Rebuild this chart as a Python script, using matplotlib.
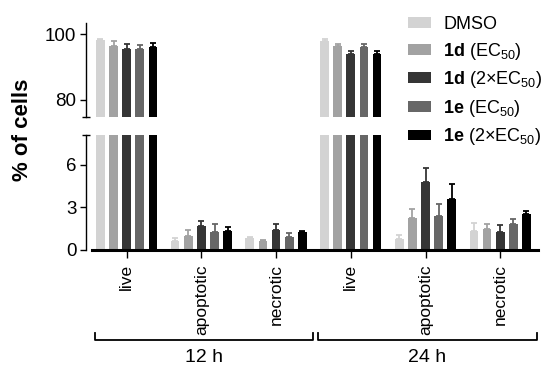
import matplotlib
matplotlib.use("Agg")
import matplotlib.pyplot as plt
from matplotlib.patches import Patch
import numpy as np

plt.rcParams['font.family'] = ['Liberation Sans', 'DejaVu Sans']
plt.rcParams['mathtext.fontset'] = 'custom'
plt.rcParams['mathtext.rm'] = 'Liberation Sans'
plt.rcParams['mathtext.it'] = 'Liberation Sans:italic'
plt.rcParams['mathtext.bf'] = 'Liberation Sans:bold'

# ---- data ----
categories = ['live', 'apoptotic', 'necrotic', 'live', 'apoptotic', 'necrotic']
time_labels = ['12 h', '24 h']
series_labels = ['DMSO',
                 r'$\mathbf{1d}$ (EC$_{50}$)',
                 r'$\mathbf{1d}$ (2×EC$_{50}$)',
                 r'$\mathbf{1e}$ (EC$_{50}$)',
                 r'$\mathbf{1e}$ (2×EC$_{50}$)']
dmso = [98.1, 0.65, 0.88, 98.0, 0.77, 1.36]
dmso_err = [0.3, 0.2, 0.05, 0.6, 0.3, 0.54]
d1_ec50 = [96.5, 1.0, 0.66, 96.3, 2.28, 1.5]
d1_ec50_err = [1.4, 0.38, 0.05, 0.8, 0.58, 0.35]
d1_2x = [95.4, 1.72, 1.38, 94.1, 4.77, 1.29]
d1_2x_err = [1.5, 0.3, 0.45, 0.7, 1.05, 0.47]
e1_ec50 = [95.4, 1.3, 0.92, 96.0, 2.37, 1.83]
e1_ec50_err = [1.2, 0.5, 0.25, 1.1, 0.85, 0.35]
e1_2x = [96.0, 1.35, 1.27, 94.1, 3.59, 2.51]
e1_2x_err = [1.4, 0.3, 0.06, 0.8, 1.06, 0.26]

series = [dmso, d1_ec50, d1_2x, e1_ec50, e1_2x]
errors = [dmso_err, d1_ec50_err, d1_2x_err, e1_ec50_err, e1_2x_err]
colors = ['#d3d3d3', '#a2a2a2', '#353535', '#676767', '#000000']

W, H = 550, 373
fig = plt.figure(figsize=(W / 100, H / 100), dpi=100)

def fx(px):
    return px / W

def fy(py):
    return 1 - py / H

left, right = 86, 538
ax_top = fig.add_axes([fx(left), fy(116.7), fx(right - left), fy(22.7) - fy(116.7)])
ax_bot = fig.add_axes([fx(left), fy(250), fx(right - left), fy(134.5) - fy(250)])

x = np.arange(len(categories))
pitch = 0.176
width = 0.1165

for ax in (ax_top, ax_bot):
    for i, (vals, errs, c) in enumerate(zip(series, errors, colors)):
        pos = x + (i - 2) * pitch
        ax.bar(pos, vals, width=width, color=c, edgecolor='none', zorder=2)
        ax.errorbar(pos, vals, yerr=[np.zeros(len(vals)), errs], fmt='none',
                    ecolor=c, elinewidth=1.3, capsize=2.0, capthick=1.3, zorder=3)
    xl = (left - 126.7) / 74.7
    xr = (right - 126.7) / 74.7
    ax.set_xlim(xl, xr)
    for s in ('top', 'right'):
        ax.spines[s].set_visible(False)
    ax.spines['left'].set_linewidth(1.0)
    ax.tick_params(axis='y', direction='out', length=4, width=1.0, labelsize=13.5, pad=3)

ax_top.set_ylim(74.9, 103.5)
ax_top.set_yticks([80, 100])
ax_top.spines['bottom'].set_visible(False)
ax_top.set_xticks([])
ax_top.plot([0], [0], marker='_', ms=6, mew=1.0, color='black',
            transform=ax_top.transAxes, clip_on=False)

ax_bot.set_ylim(0, 8.15)
ax_bot.set_yticks([0, 3, 6])
ax_bot.spines['bottom'].set_linewidth(2.2)
ax_bot.spines['bottom'].set_bounds((92 - 126.7) / 74.7, xr)
ax_bot.set_xticks(x)
ax_bot.set_xticklabels(categories, rotation=90, fontsize=12.5)
ax_bot.tick_params(axis='x', direction='out', length=6, width=1.0, pad=4)
ax_bot.plot([0], [1], marker='_', ms=6, mew=1.0, color='black',
            transform=ax_bot.transAxes, clip_on=False)

# y label
fig.text(fx(23), fy(130), '% of cells', rotation=90, fontsize=16, fontweight='bold',
         ha='center', va='center')

# group brackets
brackets = [(95, 313), (318, 537)]
for (x0, x1), lab in zip(brackets, time_labels):
    fig.add_artist(plt.Line2D([fx(x0), fx(x0), fx(x1), fx(x1)],
                              [fy(333), fy(340), fy(340), fy(333)],
                              color='black', lw=1.3))
    fig.text(fx((x0 + x1) / 2), fy(358), lab, fontsize=14, ha='center', va='center')

# legend
handles = [Patch(facecolor=c, edgecolor='none') for c in colors]
fig.legend(handles, series_labels, loc='upper left', bbox_to_anchor=(fx(408), fy(16)),
           frameon=False, fontsize=13, handlelength=1.25, handleheight=0.55,
           handletextpad=0.7, labelspacing=0.42, borderpad=0, borderaxespad=0)

fig.savefig('out.png', dpi=100)
